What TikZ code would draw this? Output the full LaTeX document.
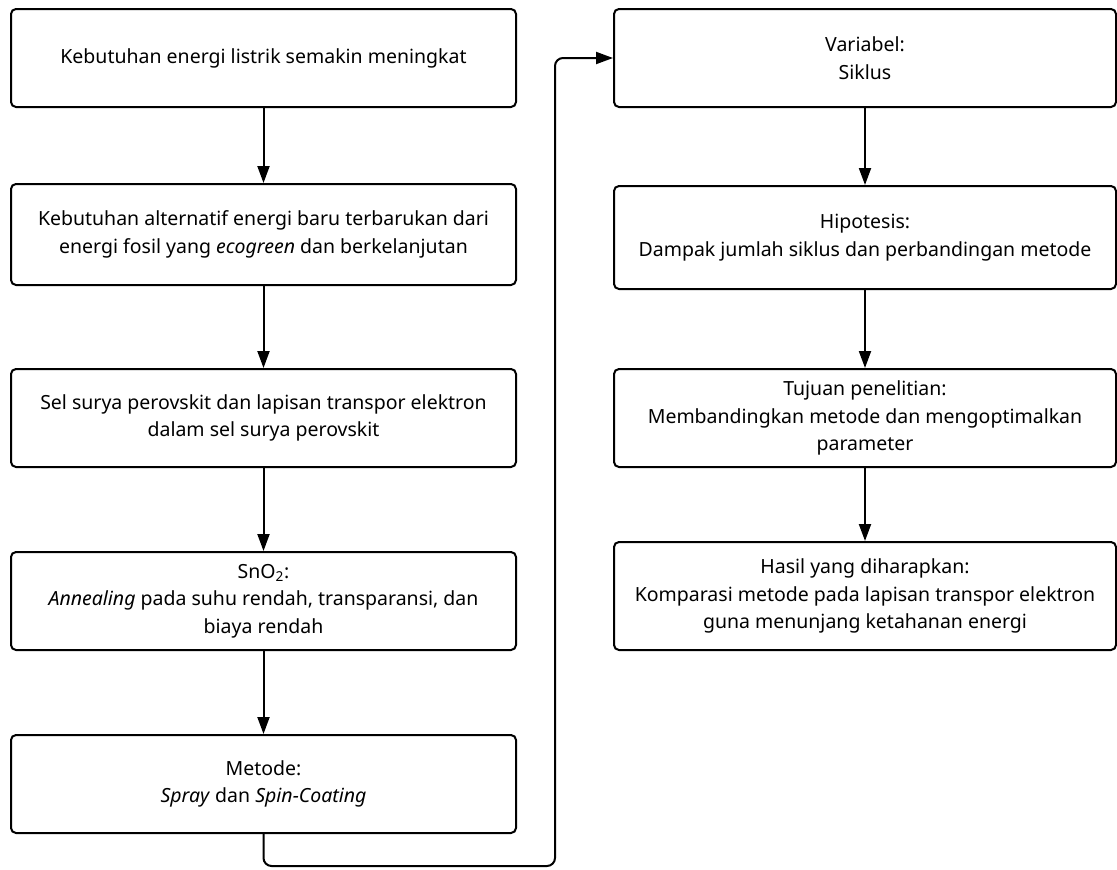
\documentclass[tikz,border=0pt]{standalone}
\usepackage{fontspec}
\setmainfont{Noto Sans}
\usetikzlibrary{arrows.meta}
\begin{document}
\begin{tikzpicture}[x=1pt,y=-1pt,
  box/.style={draw=black,line width=2pt,rounded corners=5pt,align=center,
    font=\fontsize{19.5}{27.5}\selectfont,inner sep=0pt},
  lbox/.style={box,minimum width=505pt},
  rbox/.style={box,minimum width=502pt},
  conn/.style={line width=2pt,-{Triangle[length=17pt,width=12pt]}}]
\useasboundingbox (0,0) rectangle (1117,870);
\node[lbox,minimum height=98pt] (b1) at (263.5,58) {Kebutuhan energi listrik semakin meningkat};
\node[lbox,minimum height=101pt] (b2) at (263.5,234.5) {Kebutuhan alternatif energi baru terbarukan dari\\energi fosil yang \textit{ecogreen} dan berkelanjutan};
\node[lbox,minimum height=98pt] (b3) at (263.5,418) {Sel surya perovskit dan lapisan transpor elektron\\dalam sel surya perovskit};
\node[lbox,minimum height=98pt] (b4) at (263.5,601) {SnO\textsubscript{2}:\\\textit{Annealing} pada suhu rendah, transparansi, dan\\biaya rendah};
\node[lbox,minimum height=98pt] (b5) at (263.5,784) {Metode:\\\textit{Spray} dan \textit{Spin-Coating}};
\node[rbox,minimum height=98pt] (r1) at (865,58) {Variabel:\\Siklus};
\node[rbox,minimum height=103pt] (r2) at (865,237.5) {Hipotesis:\\Dampak jumlah siklus dan perbandingan metode};
\node[rbox,minimum height=98pt] (r3) at (865,418) {Tujuan penelitian:\\Membandingkan metode dan mengoptimalkan\\parameter};
\node[rbox,minimum height=108pt] (r4) at (865,596) {Hasil yang diharapkan:\\Komparasi metode pada lapisan transpor elektron\\guna menunjang ketahanan energi};
\coordinate (c1) at (263.5,866);
\coordinate (c2) at (555,866);
\coordinate (c3) at (555,58);
\draw[conn] (b1) -- (b2);
\draw[conn] (b2) -- (b3);
\draw[conn] (b3) -- (b4);
\draw[conn] (b4) -- (b5);
\draw[conn] (r1) -- (r2);
\draw[conn] (r2) -- (r3);
\draw[conn] (r3) -- (r4);
\draw[conn,rounded corners=8pt] (b5.south) -- (c1) -- (c2) -- (c3) -- (r1.west);
\end{tikzpicture}
\end{document}
